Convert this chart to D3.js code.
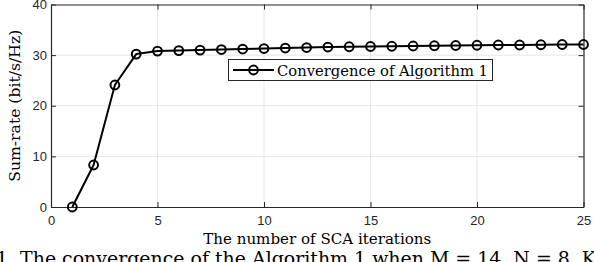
<!DOCTYPE html>
<html><head><meta charset="utf-8">
<script src="https://cdn.jsdelivr.net/npm/d3@7"></script>
<style>
body{margin:0;background:#fff;}
svg{display:block;}
</style></head>
<body>
<script>
const iterations = [1,2,3,4,5,6,7,8,9,10,11,12,13,14,15,16,17,18,19,20,21,22,23,24,25];
const sumRate = [0,8.3,24.1,30.2,30.8,30.9,31.0,31.1,31.2,31.3,31.4,31.5,31.6,31.65,31.7,31.75,31.8,31.85,31.9,31.95,32.0,32.0,32.05,32.1,32.1];
const xTicks = [0,5,10,15,20,25];
const yTicks = [0,10,20,30,40];
const seriesName = "Convergence of Algorithm 1";
const xLabel = "The number of SCA iterations";
const yLabel = "Sum-rate (bit/s/Hz)";
const caption = "1.  The convergence of the Algorithm 1 when  M = 14,  N = 8,  K";

const W = 594, H = 262;
const m = {l:51, r:10.5, t:4.5, b:55};
const svg = d3.select("body").append("svg").attr("width",W).attr("height",H);
const x = d3.scaleLinear().domain([0,25]).range([m.l, W-m.r]);
const y = d3.scaleLinear().domain([0,40]).range([H-m.b, m.t]);
const axCol = "#262626";

// grid
const g = svg.append("g");
g.selectAll(".gx").data(xTicks.slice(1,-1)).join("line")
 .attr("x1",d=>x(d)).attr("x2",d=>x(d)).attr("y1",y(0)).attr("y2",y(40))
 .attr("stroke","#e6e6e6").attr("stroke-width",1);
g.selectAll(".gy").data(yTicks.slice(1,-1)).join("line")
 .attr("y1",d=>y(d)).attr("y2",d=>y(d)).attr("x1",x(0)).attr("x2",x(25))
 .attr("stroke","#e6e6e6").attr("stroke-width",1);

// axes
const fontTick = "'Liberation Sans', Arial, sans-serif";
svg.append("g").attr("transform",`translate(0,${y(0)})`)
 .call(d3.axisBottom(x).tickValues(xTicks).tickSize(-5).tickPadding(9).tickSizeOuter(0));
svg.append("g").attr("transform",`translate(${x(0)},0)`)
 .call(d3.axisLeft(y).tickValues(yTicks).tickSize(-5).tickPadding(4).tickSizeOuter(0));
svg.append("g").attr("transform",`translate(0,${y(40)})`)
 .call(d3.axisTop(x).tickValues(xTicks).tickSize(-5).tickFormat("").tickSizeOuter(0));
svg.append("g").attr("transform",`translate(${x(25)},0)`)
 .call(d3.axisRight(y).tickValues(yTicks).tickSize(-5).tickFormat("").tickSizeOuter(0));
svg.selectAll(".domain").attr("stroke",axCol).attr("stroke-width",1.2);
svg.selectAll(".tick line").attr("stroke",axCol).attr("stroke-width",1);
svg.selectAll(".tick text").attr("fill",axCol).style("font-family",fontTick).style("font-size","13px");

// line
const line = d3.line().x((d,i)=>x(iterations[i])).y(d=>y(d));
svg.append("path").datum(sumRate).attr("d",line)
 .attr("fill","none").attr("stroke","#000").attr("stroke-width",2).attr("stroke-linejoin","round");
svg.selectAll(".pt").data(sumRate).join("circle")
 .attr("cx",(d,i)=>x(iterations[i])).attr("cy",d=>y(d)).attr("r",4.4)
 .attr("fill","none").attr("stroke","#000").attr("stroke-width",2);

// labels
const serif = "'DejaVu Serif', 'Liberation Serif', serif";
svg.append("text").attr("x",(x(0)+x(25))/2).attr("y",243.5).attr("text-anchor","middle")
 .style("font-family",serif).style("font-size","14px").attr("fill","#000")
 .attr("textLength",228).attr("lengthAdjust","spacingAndGlyphs").text(xLabel);
svg.append("text").attr("transform",`translate(19.5,${(y(0)+y(40))/2}) rotate(-90)`)
 .attr("text-anchor","middle").style("font-family",serif).style("font-size","14px").attr("fill","#000")
 .attr("textLength",152).attr("lengthAdjust","spacingAndGlyphs").text(yLabel);

// legend
const lg = svg.append("g");
lg.append("rect").attr("x",228.5).attr("y",59.5).attr("width",264).attr("height",21)
 .attr("fill","#fff").attr("stroke",axCol).attr("stroke-width",1);
lg.append("line").attr("x1",233).attr("x2",274).attr("y1",70).attr("y2",70)
 .attr("stroke","#000").attr("stroke-width",2);
lg.append("circle").attr("cx",253.5).attr("cy",70).attr("r",4.4)
 .attr("fill","none").attr("stroke","#000").attr("stroke-width",2);
lg.append("text").attr("x",277).attr("y",75.5).style("font-family",serif).style("font-size","15px")
 .attr("fill","#000").attr("textLength",211).attr("lengthAdjust","spacingAndGlyphs").text(seriesName);

// caption (cut off at bottom, as in the reference)
svg.append("text").attr("x",-4).attr("y",265).style("font-family",serif).style("font-size","19px")
 .attr("fill","#000").attr("textLength",600).attr("lengthAdjust","spacingAndGlyphs").text(caption);
</script>
</body></html>
